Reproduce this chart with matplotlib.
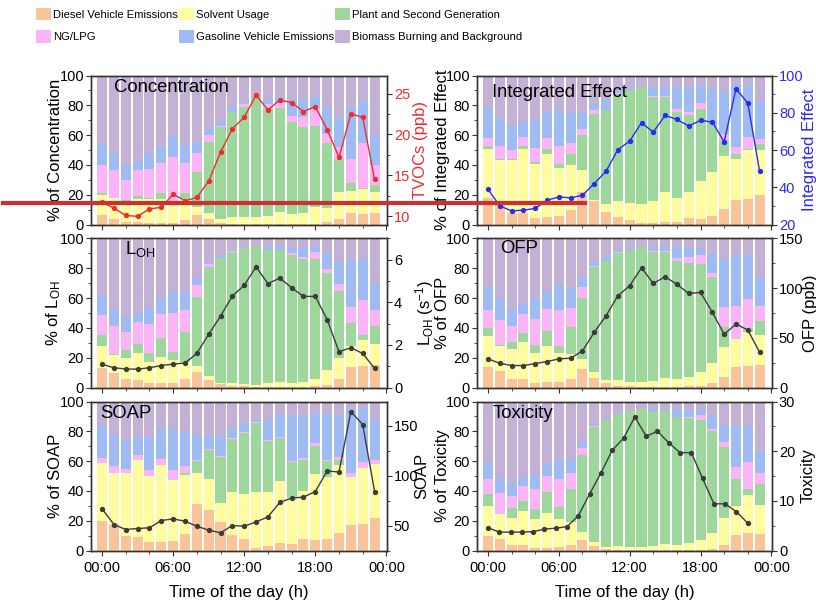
import numpy as np
import matplotlib
matplotlib.use("Agg")
import matplotlib.pyplot as plt
from matplotlib.patches import Patch
from matplotlib.lines import Line2D
from matplotlib.ticker import MultipleLocator

plt.rcParams['font.family'] = ['Liberation Sans', 'DejaVu Sans']
plt.rcParams['mathtext.fontset'] = 'custom'
plt.rcParams['mathtext.rm'] = 'Liberation Sans'
plt.rcParams['mathtext.it'] = 'Liberation Sans:italic'
plt.rcParams['mathtext.default'] = 'regular'

# sources, stacked bottom -> top
sources = ['Diesel Vehicle Emissions', 'Solvent Usage', 'Plant and Second Generation',
           'NG/LPG', 'Gasoline Vehicle Emissions', 'Biomass Burning and Background']
colors = ['#F9C49A', '#FFFB9F', '#9DD79B', '#FBB5F6', '#9EBCF3', '#C3B1D6']

hours = np.arange(24)

# cumulative % (upper edge of diesel, solvent, plant, NG/LPG, gasoline); biomass fills to 100
conc_cum = [
    [6.3, 19.7, 21, 40, 54], [4, 17.5, 18, 36.5, 47.3], [2, 16, 16.3, 30, 40], [2, 17, 19, 36.5, 42.6],
    [1, 17, 18, 37, 48], [1, 17, 21, 41.5, 52], [1, 13, 13.5, 45.5, 59.4], [3, 17, 21, 41, 53.4],
    [6.5, 12, 35, 48, 54.5], [4, 8, 55.6, 60, 64], [1, 4, 65.7, 66, 69.5], [0.5, 5, 75.3, 75.6, 79],
    [0.5, 5, 79, 80.7, 81.8], [0.5, 5, 84.8, 85, 86], [0.5, 6, 78, 80.7, 84], [0.5, 8.5, 78.5, 81.8, 85.9],
    [0.5, 7, 69, 72.9, 83.6], [0.5, 8, 65.7, 72.4, 84], [0.5, 11.5, 66, 78, 85.4], [2, 11, 55, 61, 79],
    [4, 22, 43.7, 51.8, 72.4], [7.5, 22.5, 27.6, 43.7, 79], [7, 23.5, 24.2, 55, 83], [7.5, 21.5, 26.5, 40, 60]]
ie_cum = [
    [18, 51, 53, 58, 78], [14, 43.5, 44, 52.5, 71], [8, 43, 44, 50, 66.5], [8, 51, 52.5, 59, 68.8],
    [4.5, 40.4, 42, 51.6, 70], [5, 47.5, 51, 58, 75.5], [5.5, 38, 40.4, 53, 76.6], [9.5, 39.7, 47, 54.7, 74.8],
    [22, 36.4, 59.8, 64.3, 75.5], [16, 16.5, 74, 76.6, 81], [8.5, 14, 76.6, 77, 84.4], [5, 16, 87.7, 88, 90],
    [3, 14.5, 90, 90.3, 91], [1, 14, 92, 92.2, 92.5], [1, 16, 85.5, 86, 92], [2, 22, 85.5, 86, 92.6],
    [2, 18, 75.4, 77.7, 92], [4.5, 21.5, 73.2, 75.4, 92.6], [4, 29, 77.7, 81.5, 93.3], [5.5, 35, 66.5, 67, 91],
    [10.5, 45.8, 56.5, 60.5, 88.8], [16.5, 44.2, 47.5, 52, 93.3], [17, 50.2, 50.5, 59, 93.3], [19.5, 50.2, 54.2, 57.6, 82.8]]
loh_cum = [
    [13, 28, 35, 48.7, 62], [10, 22, 22.3, 41.3, 53], [5.5, 19.6, 25, 37, 47.5], [5, 23, 29, 43.7, 50],
    [3, 17, 23, 42.6, 53.6], [3, 20.8, 33, 49, 60], [3, 18.5, 23.7, 50.2, 64.3], [6, 17.4, 37, 52, 63.8],
    [10.5, 14.7, 61, 68.7, 73.7], [5, 7.4, 80.6, 82.6, 84], [2.5, 3, 86.6, 87, 88.4], [1, 3, 91, 91.3, 92.2],
    [1, 2.5, 93.3, 93.4, 93.6], [0.5, 2, 94.9, 95, 95.2], [0.5, 3, 92.2, 92.4, 94.4], [0.5, 4, 92, 92.5, 95],
    [0.5, 3, 88.8, 90, 93.7], [0.5, 4, 86, 87.7, 93.7], [1, 6, 86, 91, 94.4], [2, 11.5, 77, 79.2, 90.6],
    [6, 20, 64.7, 69.2, 84], [14, 28, 43, 54.2, 85.5], [14.5, 32, 35, 58.5, 86], [15, 29, 41.6, 52, 69.2]]
ofp_cum = [
    [14, 34.6, 40, 52, 67.6], [11, 28, 28.3, 45.3, 59.4], [6, 26, 30.4, 41.3, 53], [5.5, 30.4, 36.8, 49, 56.3],
    [3, 23.4, 28.6, 46, 59.4], [3.5, 28, 38, 52.7, 65], [3.5, 23, 28, 52, 68.7], [6, 22.3, 40.4, 53.6, 67],
    [12.5, 19, 60.3, 67.6, 74.3], [6.5, 10.3, 80.6, 81.7, 84], [3, 5, 84.8, 85, 87.3], [1, 5, 90.6, 90.8, 92.2],
    [1, 4, 92.2, 92.4, 92.8], [0.5, 4, 94, 94.1, 94.2], [0.5, 4.5, 91, 91.5, 94], [0.5, 6.5, 91, 91.5, 94.9],
    [0.5, 6, 85, 87, 94], [1, 7, 83.7, 87.3, 93.3], [1, 10.5, 83.2, 89, 93.3], [3, 16.5, 74.3, 77, 90.6],
    [7, 27, 40.8, 53.8, 86], [13.5, 32.5, 32.8, 54.4, 88.8], [14.5, 37, 40.2, 59.4, 89], [15, 35, 44.9, 54.7, 73.9]]
soap_cum = [
    [20, 58.8, 59, 62.4, 83.5], [17.5, 52, 52.2, 56.6, 77.7], [10, 52, 52.2, 55, 74], [9, 60.6, 60.8, 64.4, 76],
    [5.5, 50, 50.2, 54.3, 76.2], [5.5, 57.2, 57.4, 61.2, 81.3], [6.5, 47.2, 47.5, 54.3, 82.2], [11, 50.6, 52, 56.6, 79.5],
    [31, 52, 60, 61, 77.7], [27, 48.3, 67.3, 68, 77], [19, 32, 62.8, 63.3, 76.2], [10.5, 39.4, 75, 75.5, 82.5],
    [7.5, 37.9, 78.8, 79.5, 85.3], [2, 39.4, 85.7, 86, 87.7], [3, 39, 73.3, 74, 87.7], [5, 46.8, 75.5, 76.2, 91],
    [4.5, 35, 59.5, 60.1, 90.6], [8, 39.9, 61, 62.1, 91], [7, 51.2, 70, 72.4, 92.2], [7.5, 49, 60, 60.6, 92.2],
    [12, 57.2, 61, 62.8, 91], [17, 49.4, 49.6, 52.1, 95.8], [17.5, 55.5, 55.7, 59.5, 95.8], [21.5, 57.9, 58.2, 60.6, 87.5]]
tox_cum = [
    [10, 30, 37.9, 47.7, 59.5], [7.5, 24.5, 24.7, 38.3, 48.8], [4, 22, 28.3, 36.5, 45], [3.5, 26.5, 33.4, 43.2, 48.8],
    [1.5, 21.2, 27.6, 41.6, 51], [2, 25, 39, 50, 58.8], [2.5, 21, 29, 47.9, 61], [4, 19.4, 41.6, 52.1, 61.7],
    [7, 12.7, 63.9, 68.8, 72.8], [3, 6, 82.9, 83.5, 84.4], [1, 2.5, 87.3, 87.6, 88.5], [0.5, 3, 91.3, 91.5, 92],
    [0.5, 2.5, 93.5, 93.6, 93.7], [0.5, 2.5, 95.1, 95.2, 95.3], [0.5, 3, 92.9, 93.1, 94.7], [0.5, 4.5, 93.3, 93.5, 95.1],
    [0.5, 4, 89.5, 89.7, 94.7], [0.5, 5, 88.9, 89.8, 94], [0.5, 7, 87.7, 91, 94.7], [1, 12, 80, 81.5, 90.6],
    [4, 22, 69.5, 72.8, 84.4], [10.5, 30, 47.7, 56.1, 84], [11.5, 37.2, 41.2, 59.5, 84], [11, 30.5, 44.5, 52.1, 66.8]]

# right-axis totals
tvoc = [11.7, 11.0, 10.1, 10.0, 10.9, 11.1, 12.7, 11.9, 12.3, 14.3, 17.8, 20.7,
        22.1, 24.8, 23.0, 24.2, 23.9, 22.8, 23.4, 20.6, 17.2, 22.5, 22.1, 14.5]
ie = [38.9, 30.0, 27.3, 27.7, 28.6, 33.0, 34.8, 34.3, 35.7, 42.0, 48.6, 60.2,
      64.8, 74.6, 69.6, 78.6, 76.4, 72.9, 75.9, 75.0, 64.3, 92.9, 85.2, 48.6]
loh = [1.09, 0.93, 0.87, 0.86, 0.93, 1.03, 1.10, 1.15, 1.60, 2.50, 3.35, 4.30,
       4.80, 5.67, 4.88, 5.14, 4.69, 4.28, 4.28, 3.19, 1.68, 1.87, 1.60, 0.90]
ofp = [28.8, 24.4, 22.1, 22.1, 24.1, 26.1, 28.8, 29.5, 36.8, 55.6, 72.3, 92.4,
       102.4, 120.5, 104.8, 111.5, 103.8, 94.7, 95.7, 75.7, 53.6, 63.9, 57.9, 35.5]
soap = [66.8, 51.0, 46.0, 47.0, 47.7, 55.0, 56.6, 54.3, 49.3, 45.4, 42.7, 50.0,
        49.3, 53.6, 58.6, 73.1, 77.4, 78.4, 84.0, 104.5, 103.5, 163.9, 151.0, 84.0]
tox = [4.6, 3.7, 3.7, 3.7, 3.8, 4.3, 4.5, 4.8, 7.0, 11.4, 15.6, 20.2,
       22.6, 26.9, 23.0, 24.0, 21.7, 19.7, 19.7, 14.5, 9.4, 9.4, 7.8, 5.5]
# toxicity series is squeezed onto 0..22 h in the original
tox_hours = hours * 22 / 23

xticklabels = ['00:00', '06:00', '12:00', '18:00', '00:00']

fig = plt.figure(figsize=(8.16, 6.07), dpi=100)

W = 816.0
H = 607.0
spine_c = '#333333'


def panel(left, top, width, cum, lx, ly, title, tpos, ylab, rlab, rlim, rmaj, rmin,
          lcolor, tcolor, bottom_row, ylab_x, rlab_x):
    ax = fig.add_axes([left / W, 1 - (top + 149) / H, width / W, 149 / H])
    cum = np.array(cum, dtype=float)
    tops = np.column_stack([cum, np.full(24, 100.0)])
    bots = np.column_stack([np.zeros(24), cum])
    for k in range(6):
        ax.bar(hours, tops[:, k] - bots[:, k], bottom=bots[:, k], width=0.85,
               color=colors[k], linewidth=0)
    ax.set_xlim(-0.93, 24.05)
    ax.set_ylim(0, 100)
    ax.set_xticks([0, 6, 12, 18, 24])
    ax.xaxis.set_minor_locator(MultipleLocator(2))
    ax.yaxis.set_major_locator(MultipleLocator(20))
    ax.yaxis.set_minor_locator(MultipleLocator(10))
    ax.tick_params(which='both', direction='out', colors=spine_c, labelcolor='black',
                   labelsize=10.5, pad=1.5)
    ax.tick_params(axis='x', pad=4)
    ax.tick_params(which='major', length=3.5)
    ax.tick_params(which='minor', length=2)
    if bottom_row:
        ax.set_xticklabels(xticklabels)
        ax.set_xlabel('Time of the day (h)', fontsize=12, labelpad=7)
    else:
        ax.set_xticklabels([])
    ax.set_ylabel(ylab, fontsize=12)
    ax.yaxis.set_label_coords((ylab_x - left) / width, 0.5)
    ax.text(tpos[0], tpos[1], title, transform=ax.transAxes, fontsize=13.3,
            ha='left', va='center', zorder=5)

    ax2 = ax.twinx()
    ax2.plot(lx, ly, '-o', color=lcolor, lw=1.0, ms=2.8, mec=lcolor, mfc=lcolor)
    ax2.set_ylim(*rlim)
    ax2.set_yticks(rmaj)
    ax2.yaxis.set_minor_locator(MultipleLocator(rmin))
    ax2.tick_params(which='both', direction='out', colors=spine_c, labelcolor=tcolor,
                    labelsize=10.5, pad=1.5)
    ax2.tick_params(which='major', length=3.5)
    ax2.tick_params(which='minor', length=2)
    ax2.set_ylabel(rlab, color=tcolor, fontsize=12)
    ax2.yaxis.set_label_coords((rlab_x - left) / width, 0.5)
    for a in (ax, ax2):
        for s in a.spines.values():
            s.set_color(spine_c)
            s.set_linewidth(1.0)
    return ax


red = '#F22B2B'
blue = '#2B2BF2'
line_grey = '#3C3C3C'

panel(91, 75.5, 296, conc_cum, hours, tvoc, 'Concentration', (0.078, 0.92),
      '% of Concentration', 'TVOCs (ppb)', (9, 27.2), [10, 15, 20, 25], 2.5, red, red, False, 63, 413)
panel(477, 75.5, 295, ie_cum, hours, ie, 'Integrated Effect', (0.05, 0.885),
      '% of Integrated Effect', 'Integrated Effect', (20, 100), [20, 40, 60, 80, 100], 10,
      blue, blue, False, 450, 802)
panel(91, 238.5, 296, loh_cum, hours, loh, 'L$_{OH}$', (0.115, 0.93),
      '% of L$_{OH}$', 'L$_{OH}$ (s$^{-1}$)', (0, 7), [0, 2, 4, 6], 1, line_grey, 'black', False, 63, 413)
panel(477, 238.5, 295, ofp_cum, hours, ofp, 'OFP', (0.078, 0.93),
      '% of OFP', 'OFP (ppb)', (0, 150), [0, 50, 100, 150], 25, line_grey, 'black', False, 450, 803)
panel(91, 401.5, 296, soap_cum, hours, soap, 'SOAP', (0.03, 0.92),
      '% of SOAP', 'SOAP', (25, 174), [50, 100, 150], 25, line_grey, 'black', True, 63, 414)
panel(477, 401.5, 295, tox_cum, tox_hours, tox, 'Toxicity', (0.054, 0.92),
      '% of Toxicity', 'Toxicity', (0, 30), [0, 10, 20, 30], 5, line_grey, 'black', True, 450, 801)

# legend, two rows of three
order = [0, 3, 1, 4, 2, 5]
handles = [Patch(facecolor=colors[i], edgecolor='none') for i in order]
labels = [sources[i] for i in order]
fig.legend(handles, labels, ncol=3, loc='upper left', bbox_to_anchor=(36 / W, 1 - 8 / H),
           frameon=False, fontsize=8.1,
           handlelength=1.3, handleheight=1.3, handletextpad=0.25, columnspacing=0.05,
           labelspacing=0.9, borderpad=0, borderaxespad=0)

# red marker line that crosses the original picture
fig.add_artist(Line2D([3 / W, 585 / W], [1 - 203.5 / H] * 2, color='#C83232', lw=3,
                      transform=fig.transFigure, zorder=20))

fig.savefig('out.png', dpi=100)
